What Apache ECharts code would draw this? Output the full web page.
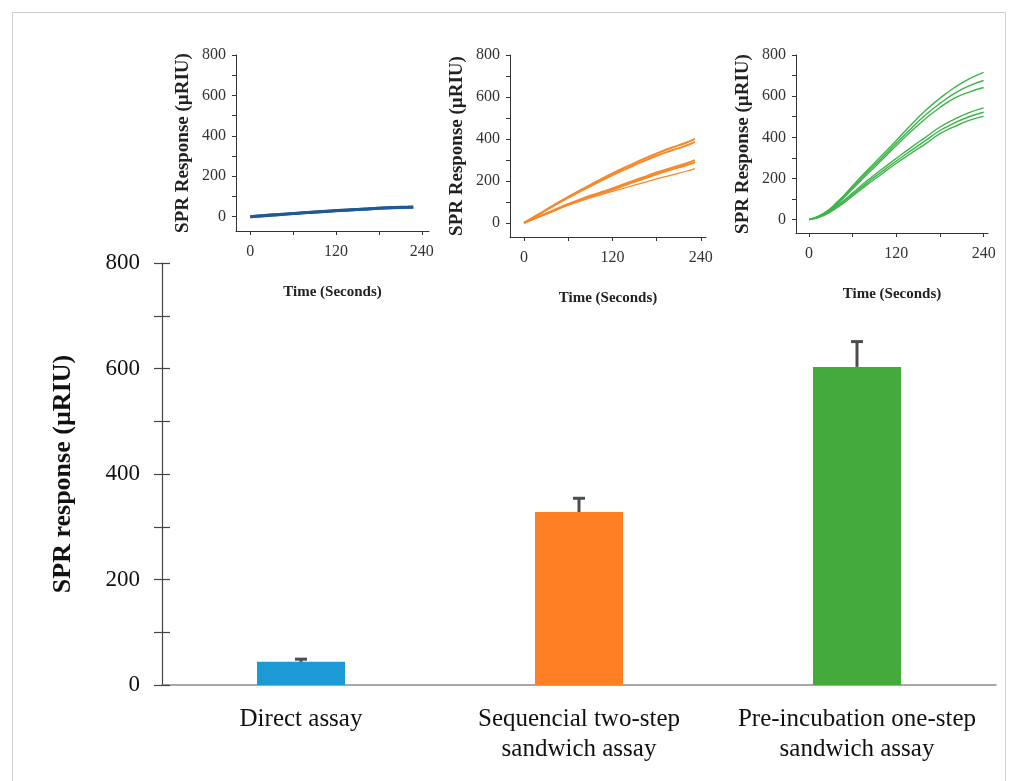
<!DOCTYPE html>
<html>
<head>
<meta charset="utf-8">
<script src="https://cdn.jsdelivr.net/npm/echarts@6/dist/echarts.min.js"></script>
<style>
html,body{margin:0;padding:0;background:#fff;}
#chart{width:1017px;height:781px;}
</style>
</head>
<body>
<div id="chart"></div>
<script>
// ---- Main bar chart data ----
const categories = ['Direct assay', 'Sequencial two-step\nsandwich assay', 'Pre-incubation one-step\nsandwich assay'];
const meanResponse = [44, 328, 603];
const errorUpper = [49, 354, 651];
const mainTicks = [0, 200, 400, 600, 800];

// ---- Inset sensorgram data (time in seconds, response in µRIU) ----
const timeDirect = [0, 20, 40, 60, 80, 100, 120, 140, 160, 180, 200, 220, 228];
const directRun1 = [0, 6, 11, 16, 21, 26, 30, 34, 38, 42, 45, 47, 48];
const directRun2 = [0, 5, 10, 15, 20, 24, 29, 33, 37, 41, 44, 46, 47];

const timeTwoStep = [0, 20, 40, 60, 80, 100, 120, 140, 160, 180, 200, 220, 232];
const twoStepRun1 = [0, 42, 84, 124, 162, 200, 236, 269, 301, 331, 358, 382, 400];
const twoStepRun2 = [0, 40, 81, 120, 157, 193, 228, 260, 291, 320, 345, 368, 386];
const twoStepRun3 = [0, 30, 60, 90, 117, 141, 164, 190, 215, 240, 262, 283, 299];
const twoStepRun4 = [0, 29, 58, 87, 113, 137, 159, 184, 208, 232, 254, 275, 290];
const twoStepRun5 = [0, 28, 56, 84, 108, 130, 150, 170, 190, 210, 228, 246, 259];

const timeOneStep = [0, 20, 40, 60, 80, 100, 120, 140, 160, 180, 200, 220, 240];
const oneStepRun1 = [0, 30, 90, 165, 240, 312, 385, 460, 530, 590, 642, 684, 716];
const oneStepRun2 = [0, 28, 85, 158, 230, 300, 372, 442, 508, 565, 614, 650, 676];
const oneStepRun3 = [0, 26, 80, 150, 220, 290, 360, 428, 490, 545, 590, 620, 642];
const oneStepRun4 = [0, 24, 72, 130, 190, 245, 298, 350, 400, 450, 488, 520, 543];
const oneStepRun5 = [0, 22, 68, 122, 180, 233, 285, 335, 384, 433, 470, 500, 522];
const oneStepRun6 = [0, 20, 62, 115, 170, 222, 274, 322, 368, 418, 452, 482, 502];

const insetYTicks = [0, 100, 200, 300, 400, 500, 600, 700, 800];
const insetYLabels = [0, 200, 400, 600, 800];
const insetXTicks = [0, 60, 120, 180, 240];
const insetXLabels = [0, 120, 240];

const SERIF = '"Liberation Serif", "DejaVu Serif", serif';

const pairs = (t, v) => t.map((x, i) => [x, v[i]]);

const insetGrids = [
  {left: 236, top: 55, width: 193, height: 176, xmin: -20, xmax: 250, ymin: -71},
  {left: 510, top: 55, width: 196, height: 182, xmin: -19, xmax: 247, ymin: -67},
  {left: 796, top: 55, width: 192, height: 178, xmin: -18, xmax: 246, ymin: -65}
];

const grids = [{left: 162, right: 21, top: 263, bottom: 96}];
const xAxes = [{
  type: 'category', gridIndex: 0, data: categories,
  axisLine: {lineStyle: {color: '#8a8a8a', width: 1.5}},
  axisTick: {show: false},
  axisLabel: {color: '#111', fontFamily: SERIF, fontSize: 25, lineHeight: 30, margin: 19, interval: 0}
}];
const yAxes = [{
  type: 'value', gridIndex: 0, min: 0, max: 800, interval: 100,
  name: 'SPR response (µRIU)', nameLocation: 'middle', nameRotate: 90, nameGap: 86,
  nameTextStyle: {color: '#111', fontFamily: SERIF, fontSize: 26, fontWeight: 'bold'},
  axisLine: {show: true, lineStyle: {color: '#444', width: 1.2}},
  axisTick: {show: true, length: 8, lineStyle: {color: '#444', width: 1.2}},
  axisLabel: {color: '#111', fontFamily: SERIF, fontSize: 23, margin: 22,
    formatter: v => (mainTicks.indexOf(v) >= 0 ? String(v) : '')},
  splitLine: {show: false}
}, {
  type: 'value', gridIndex: 0, min: 0, max: 800, interval: 100, position: 'left',
  axisLine: {show: false},
  axisTick: {show: true, inside: true, length: 8, lineStyle: {color: '#444', width: 1.2}},
  axisLabel: {show: false},
  splitLine: {show: false}
}];

insetGrids.forEach((g, k) => {
  grids.push({left: g.left, top: g.top, width: g.width, height: g.height});
  const gi = k + 1;
  xAxes.push({
    type: 'value', gridIndex: gi, min: g.xmin, max: g.xmax,
    name: 'Time (Seconds)', nameLocation: 'middle', nameGap: 54,
    nameTextStyle: {color: '#222', fontFamily: SERIF, fontSize: 15, fontWeight: 'bold'},
    axisLine: {show: true, onZero: false, lineStyle: {color: '#333', width: 1}},
    axisTick: {show: true, length: 4, customValues: insetXTicks, lineStyle: {color: '#333'}},
    axisLabel: {color: '#333', fontFamily: SERIF, fontSize: 16, margin: 13, customValues: insetXLabels},
    splitLine: {show: false}
  });
  yAxes.push({
    type: 'value', gridIndex: gi, min: g.ymin, max: 800,
    name: 'SPR Response (µRIU)', nameLocation: 'middle', nameRotate: 90, nameGap: 43,
    nameTextStyle: {color: '#222', fontFamily: SERIF, fontSize: 19, fontWeight: 'bold'},
    axisLine: {show: true, onZero: false, lineStyle: {color: '#333', width: 1}},
    axisTick: {show: true, length: 4, customValues: insetYTicks, lineStyle: {color: '#333'}},
    axisLabel: {color: '#333', fontFamily: SERIF, fontSize: 16, margin: 10, customValues: insetYLabels},
    splitLine: {show: false}
  });
});

const series = [{
  type: 'bar', xAxisIndex: 0, yAxisIndex: 0, barWidth: 88,
  data: meanResponse.map((v, i) => ({
    value: v,
    itemStyle: {color: ['#1b9ad6', '#ff7f24', '#43aa3b'][i]}
  }))
}, {
  type: 'custom', xAxisIndex: 0, yAxisIndex: 0, z: 5,
  data: meanResponse.map((v, i) => [i, v, errorUpper[i]]),
  encode: {x: 0, y: [1, 2]},
  renderItem: (params, api) => {
    const x = api.value(0);
    const p0 = api.coord([x, api.value(1)]);
    const p1 = api.coord([x, api.value(2)]);
    const st = {stroke: '#4d4d4d', lineWidth: 3};
    return {type: 'group', children: [
      {type: 'line', shape: {x1: p0[0], y1: p0[1], x2: p1[0], y2: p1[1]}, style: st},
      {type: 'line', shape: {x1: p1[0] - 6, y1: p1[1], x2: p1[0] + 6, y2: p1[1]}, style: st}
    ]};
  }
}];

function addLine(gi, t, v, color, width) {
  series.push({
    type: 'line', xAxisIndex: gi, yAxisIndex: gi + 1, data: pairs(t, v),
    showSymbol: false, smooth: true, silent: true,
    lineStyle: {color: color, width: width}
  });
}
addLine(1, timeDirect, directRun1, '#1f5a96', 3);
addLine(1, timeDirect, directRun2, '#1f5a96', 3);
[twoStepRun1, twoStepRun2, twoStepRun3, twoStepRun4].forEach(r => addLine(2, timeTwoStep, r, '#f7892a', 2));
addLine(2, timeTwoStep, twoStepRun5, '#f7892a', 1.2);
[oneStepRun1, oneStepRun2, oneStepRun3, oneStepRun4, oneStepRun5, oneStepRun6].forEach(r => addLine(3, timeOneStep, r, '#3db44a', 1.4));

const chart = echarts.init(document.getElementById('chart'), null, {renderer: 'canvas'});
chart.setOption({
  animation: false,
  backgroundColor: '#ffffff',
  graphic: [{
    type: 'rect', silent: true, z: -1,
    shape: {x: 12.5, y: 12.5, width: 993, height: 800},
    style: {fill: 'none', stroke: '#cfcfcf', lineWidth: 1}
  }],
  grid: grids,
  xAxis: xAxes,
  yAxis: yAxes,
  series: series
});
</script>
</body>
</html>
